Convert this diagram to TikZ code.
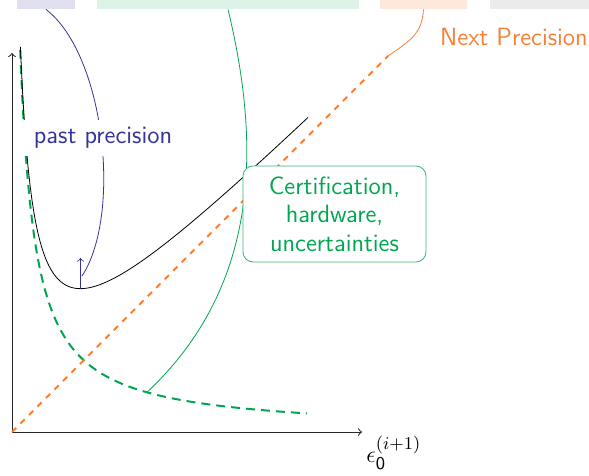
\documentclass[tikz,border=0pt]{standalone}
\definecolor{pastblue}{RGB}{51,51,153}
\definecolor{certgreen}{RGB}{0,166,80}
\definecolor{nextorange}{RGB}{245,128,56}
\begin{document}
\begin{tikzpicture}[x=0.5pt, y=-0.5pt, font=\sffamily\fontsize{12.5}{14.3}\selectfont]
    % Styles
    \tikzstyle{bar} = [rectangle, inner sep=0pt, minimum height=4.5pt]
    \tikzstyle{axis} = [line width=0.5pt, black!85, ->]
    \tikzstyle{link} = [thin]
    \tikzstyle{label} = [fill=white, inner xsep=8pt, inner ysep=3.75pt]
    \tikzstyle{block} = [rectangle, rounded corners=5pt, draw=certgreen!80, fill=white,
        text=certgreen, align=center, minimum width=91.5pt, minimum height=48pt, inner sep=2pt]
    \useasboundingbox (0,0) rectangle (589,476);

    % Bars
    \node [bar, fill=pastblue!15, minimum width=29pt] (pastbar) at (46,4.5) {};
    \node [bar, fill=certgreen!13, minimum width=131pt] (certbar) at (228,4.5) {};
    \node [bar, fill=nextorange!18, minimum width=43.5pt] (nextbar) at (423.5,4.5) {};
    \node [bar, fill=black!8, minimum width=49.5pt] (otherbar) at (539.5,4.5) {};

    % Points
    \coordinate (origin) at (12,432);
    \coordinate (yend) at (12,53);
    \coordinate (xend) at (362,432);
    \coordinate (nexttop) at (388,56);
    \coordinate (minpt) at (80.5,288.6);
    \coordinate (minup) at (80.5,258);
    \coordinate (pastend) at (82,276);
    \coordinate (certend) at (147,392.3);

    % Axes
    \draw [axis] (origin) -- (yend);
    \draw [axis] (origin) -- (xend);

    % Curves
    \draw [certgreen, line width=1pt, dash pattern=on 4.5pt off 3pt]
        plot [domain=8.2:295, samples=150] ({12+\x},{432-5614/(\x+6.5)});
    \draw [black, thin]
        plot [domain=8.4:296, samples=150] ({12+\x},{432-5614/(\x+6.5)-\x});
    \draw [nextorange, line width=0.9pt, dashed] (origin) -- (nexttop);

    % Arrows
    \draw [link, pastblue] (pastbar.south) .. controls (105,55) and (122,215) .. (pastend);
    \draw [link, pastblue, ->] (minpt) -- (minup);
    \draw [link, certgreen] (certbar.south) .. controls (262,150) and (258,288) .. (certend);
    \draw [link, nextorange] (nextbar.south) .. controls (422,35) and (408,42) .. (nexttop);

    % Nodes
    \node [label, text=pastblue] (pastlbl) at (103,138) {past precision};
    \node [block] (certbox) at (334.5,214) {Certification,\\hardware,\\uncertainties};
    \node [text=nextorange] (nextlbl) at (514,37) {Next Precision};
    \node [below right, inner sep=2pt] (epslbl) at (xend) {$\epsilon_{\mathsf{0}}^{(i+1)}$};
\end{tikzpicture}
\end{document}
